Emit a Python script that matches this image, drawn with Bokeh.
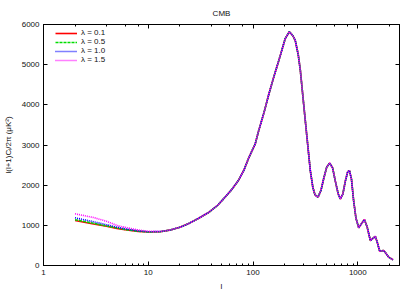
from bokeh.plotting import figure
from bokeh.models import Range1d, LogAxis, LinearAxis, NumeralTickFormatter, Legend, LegendItem, ColumnDataSource
from bokeh.embed import file_html
from bokeh.resources import INLINE

# Multipole values and spectra
ell_low = [2, 3, 4, 5, 6, 8, 10, 13]
lam01_low = [1120, 1035, 975, 925, 890, 850, 835, 842]
lam05_low = [1140, 1050, 985, 935, 897, 853, 837, 843]
lam10_low = [1187, 1090, 1015, 955, 912, 862, 840, 845]
lam15_low = [1287, 1195, 1100, 1000, 950, 885, 852, 848]

ell_high = [16, 20, 24, 30, 38, 46, 54, 63, 73, 82, 91, 105, 113, 127, 141, 158, 176, 203,
            222, 240, 253, 270, 283, 304, 327, 352, 372, 390, 417, 445, 472, 505, 540, 575,
            610, 650, 682, 720, 760, 800, 832, 870, 912, 960, 1020, 1090, 1157, 1230, 1318,
            1400, 1472, 1540, 1619, 1700, 1767, 1870, 1972, 2080, 2168]
cl_high = [880, 950, 1037, 1170, 1327, 1500, 1700, 1900, 2130, 2380, 2680, 3030, 3350, 3800,
           4250, 4700, 5100, 5650, 5820, 5720, 5600, 5250, 4850, 4025, 3194, 2365, 1950, 1760,
           1700, 1870, 2158, 2450, 2550, 2430, 2100, 1780, 1660, 1780, 2100, 2330, 2365, 2150,
           1618, 1180, 938, 1050, 1145, 950, 622, 680, 722, 560, 357, 365, 373, 290, 207, 170, 142]

labels = ["λ = 0.1", "λ = 0.5", "λ = 1.0", "λ = 1.5"]
lows = [lam01_low, lam05_low, lam10_low, lam15_low]
colors = ["#ff0000", "#00dd00", "#0000ff", "#ff00ff"]
dashes = ["solid", "3 1", "1 1", "1 1"]

FONT = "Liberation Sans"
TXT = "#111111"

p = figure(frame_width=356, frame_height=241, x_axis_type="log", output_backend="svg",
           toolbar_location=None, x_range=Range1d(1, 2500), y_range=Range1d(0, 6000),
           min_border_left=36, min_border_right=7, min_border_top=16, min_border_bottom=23,
           title="CMB")
p.title.align = "center"
p.title.text_font = FONT
p.title.text_font_size = "8px"
p.title.text_font_style = "normal"
p.title.text_color = TXT
p.title.offset = 0
p.title.standoff = 13
p.grid.visible = False
p.outline_line_color = "black"
p.outline_line_width = 1

items = []
for lab, lo, c, d in zip(labels, lows, colors, dashes):
    src = ColumnDataSource(dict(x=ell_low + ell_high, y=lo + cl_high))
    r = p.line("x", "y", source=src, line_color=c, line_width=1.6, line_dash=d)
    items.append(LegendItem(label=lab, renderers=[r]))

for ax in [p.xaxis[0], p.yaxis[0]]:
    ax.major_tick_in = 4
    ax.major_tick_out = 0
    ax.minor_tick_in = 2
    ax.minor_tick_out = 0
    ax.axis_line_color = "black"
    ax.major_label_text_font = FONT
    ax.major_label_text_font_size = "8px"
    ax.major_label_text_color = TXT
    ax.axis_label_text_font = FONT
    ax.axis_label_text_font_size = "8px"
    ax.axis_label_text_font_style = "normal"
    ax.axis_label_text_color = TXT
    ax.major_label_standoff = 4

p.xaxis[0].formatter = NumeralTickFormatter(format="0")
p.xaxis[0].axis_label = "l"
p.xaxis[0].axis_label_standoff = 4
p.yaxis[0].axis_label = "l(l+1)Cₗ/2π (μK²)"
p.yaxis[0].axis_label_standoff = 6
p.yaxis[0].minor_tick_line_color = None
p.yaxis[0].ticker.desired_num_ticks = 7

top = LogAxis(major_label_text_color=None, major_label_text_font_size="1px",
              major_tick_in=4, major_tick_out=0,
              minor_tick_in=2, minor_tick_out=0, major_label_standoff=0)
right = LinearAxis(major_label_text_color=None, major_label_text_font_size="1px",
                   major_tick_in=4, major_tick_out=0,
                   minor_tick_line_color=None, major_label_standoff=0)
right.ticker.desired_num_ticks = 7
p.add_layout(top, "above")
p.add_layout(right, "right")

leg = Legend(items=items, location=(12, 201), border_line_color=None,
             background_fill_alpha=0, label_text_font=FONT, label_text_font_size="8px",
             label_text_color=TXT,
             label_height=8, glyph_height=8, glyph_width=22, spacing=0, padding=2,
             margin=0, label_standoff=4)
p.add_layout(leg)

open("out.html", "w").write(file_html(p, INLINE))
